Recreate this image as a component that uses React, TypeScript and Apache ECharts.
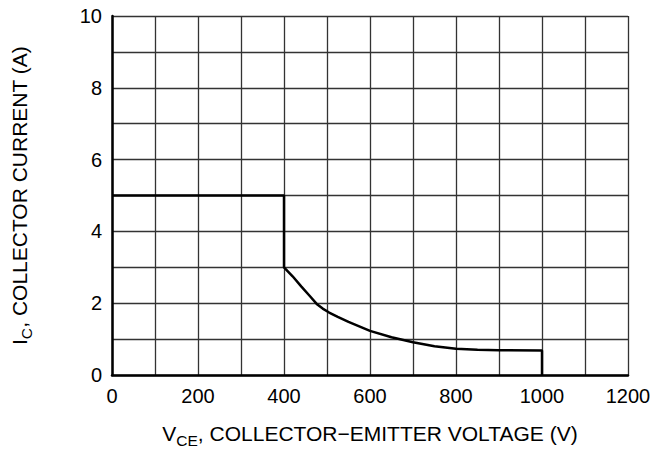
import React, { useEffect, useRef } from "react";
import * as echarts from "echarts";

const vce = [0, 400, 400, 420, 440, 460, 476, 490, 505, 525, 550, 600, 650, 700, 750, 800, 850, 900, 1000, 1000];
const ic = [5, 5, 3, 2.75, 2.47, 2.2, 1.98, 1.85, 1.74, 1.62, 1.48, 1.23, 1.05, 0.91, 0.8, 0.73, 0.7, 0.69, 0.68, 0];

const xTicksLabeled = [0, 200, 400, 600, 800, 1000, 1200];
const yTicksLabeled = [0, 2, 4, 6, 8, 10];

const FONT = "'Liberation Sans', Arial, Helvetica, sans-serif";

const titleRich = {
  m: { fontFamily: FONT, fontSize: 21, color: "#000", verticalAlign: "bottom", lineHeight: 23 },
  s: { fontFamily: FONT, fontSize: 15.5, color: "#000", verticalAlign: "bottom", lineHeight: 15, padding: [0, 0, -4, 0] },
};

export default function App() {
  const ref = useRef<HTMLDivElement>(null);
  useEffect(() => {
    if (!ref.current) return;
    const chart = echarts.init(ref.current, null, { renderer: "svg" });
    chart.setOption({
      animation: false,
      backgroundColor: "#ffffff",
      grid: { left: 112, right: 36, top: 16, bottom: 76, containLabel: false, show: false },
      xAxis: {
        type: "value",
        min: 0,
        max: 1200,
        interval: 100,
        name: "{m|V}{s|CE}{m|, COLLECTOR\u2212EMITTER VOLTAGE (V)}",
        nameLocation: "middle",
        nameGap: 46,
        nameTextStyle: { rich: titleRich },
        axisLine: { show: true, onZero: false, lineStyle: { color: "#000", width: 2.5 } },
        axisTick: { show: false },
        axisLabel: {
          fontFamily: FONT,
          fontSize: 20,
          color: "#000",
          margin: 11,
          formatter: (v: number) => (xTicksLabeled.includes(v) ? String(v) : ""),
        },
        splitLine: { show: true, lineStyle: { color: "#333", width: 1.3 } },
      },
      yAxis: {
        type: "value",
        min: 0,
        max: 10,
        interval: 1,
        name: "{m|I}{s|C}{m|, COLLECTOR CURRENT (A)}",
        nameLocation: "middle",
        nameRotate: 90,
        nameGap: 82,
        nameTextStyle: { rich: titleRich },
        axisLine: { show: true, onZero: false, lineStyle: { color: "#000", width: 2.5 } },
        axisTick: { show: false },
        axisLabel: {
          fontFamily: FONT,
          fontSize: 20,
          color: "#000",
          margin: 10,
          formatter: (v: number) => (yTicksLabeled.includes(v) ? String(v) : ""),
        },
        splitLine: { show: true, lineStyle: { color: "#333", width: 1.3 } },
      },
      series: [
        {
          type: "line",
          data: vce.map((x, i) => [x, ic[i]]),
          showSymbol: false,
          symbol: "none",
          smooth: false,
          lineStyle: { color: "#000", width: 2.5 },
          z: 5,
        },
      ],
    });
    return () => chart.dispose();
  }, []);
  return <div ref={ref} style={{ width: 664, height: 453, position: "absolute", left: 0, top: 0 }} />;
}
